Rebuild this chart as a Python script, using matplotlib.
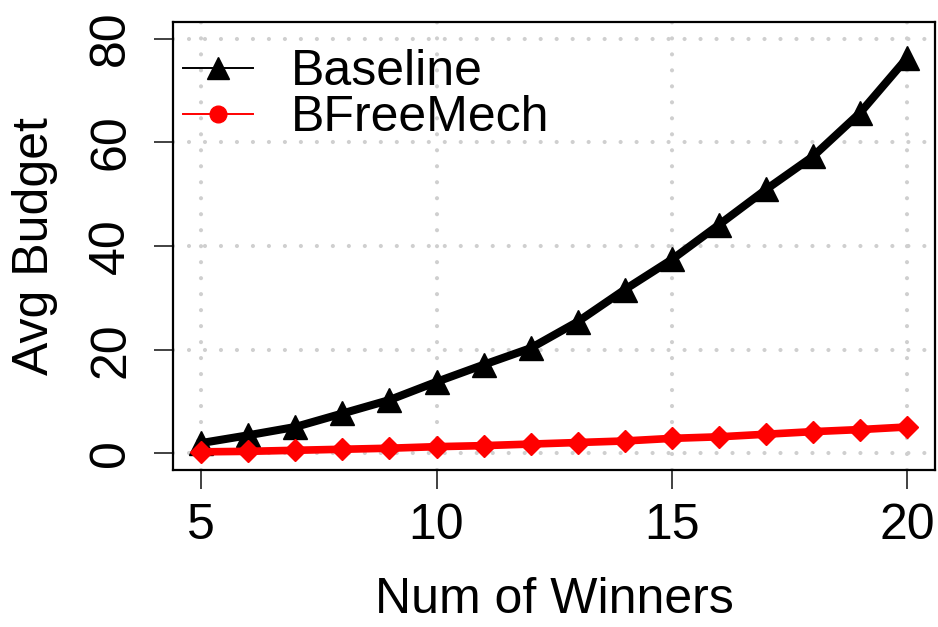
import matplotlib
matplotlib.use("Agg")
import matplotlib.pyplot as plt
from matplotlib.lines import Line2D

plt.rcParams.update({
    "font.family": ["Liberation Sans", "DejaVu Sans"],
    "font.size": 36,
    "lines.scale_dashes": False,
})

winners = [5, 6, 7, 8, 9, 10, 11, 12, 13, 14, 15, 16, 17, 18, 19, 20]
baseline = [2.0, 3.5, 5.1, 7.7, 10.3, 13.8, 17.1, 20.3, 25.4, 31.6,
            37.4, 44.1, 50.9, 57.3, 65.7, 76.3]
bfree = [0.3, 0.4, 0.6, 0.8, 1.0, 1.3, 1.5, 1.8, 2.1, 2.4,
         2.9, 3.2, 3.7, 4.2, 4.6, 5.1]

x_ticks = [5, 10, 15, 20]
y_ticks = [0, 20, 40, 60, 80]

fig = plt.figure(figsize=(9.38, 6.27), dpi=100)
ax = fig.add_axes([0.1844, 0.2504, 0.8129, 0.7145])

# dotted light-gray grid at the tick positions
grid_kw = dict(color="#CFCFCF", lw=3.0, linestyle=(0, (0.01, 11.5)),
               dash_capstyle="round", zorder=0)
for xv in x_ticks:
    ax.axvline(xv, **grid_kw)
for yv in y_ticks:
    ax.axhline(yv, **grid_kw)

ax.plot(winners, baseline, color="black", lw=5.8, marker="^", ms=17,
        zorder=3)
ax.plot(winners, bfree, color="#FF0000", lw=5.5, marker="D", ms=11,
        zorder=3)

ax.set_xlim(4.4, 20.6)
ax.set_ylim(-3.2, 83.2)
ax.set_xticks(x_ticks)
ax.set_yticks(y_ticks)
ax.set_yticklabels([str(v) for v in y_ticks], rotation=90, va="center")
ax.tick_params(axis="both", length=14, width=1.3, color="#333333")
ax.tick_params(axis="x", pad=10)
ax.tick_params(axis="y", pad=14)
for sp in ax.spines.values():
    sp.set_linewidth(1.6)

ax.set_xlabel("Num of Winners", labelpad=20)
ax.set_ylabel("Avg Budget", labelpad=22)

handles = [
    Line2D([], [], color="black", lw=1.4, marker="^", ms=16),
    Line2D([], [], color="#FF0000", lw=1.4, marker="o", ms=12),
]
ax.legend(handles, ["Baseline", "BFreeMech"], loc="upper left",
          bbox_to_anchor=(0.0, 0.962), frameon=False, handlelength=1.4,
          handletextpad=0.75, labelspacing=0.0, borderaxespad=0.0,
          borderpad=0.2)

fig.savefig("out.png", dpi=100)
